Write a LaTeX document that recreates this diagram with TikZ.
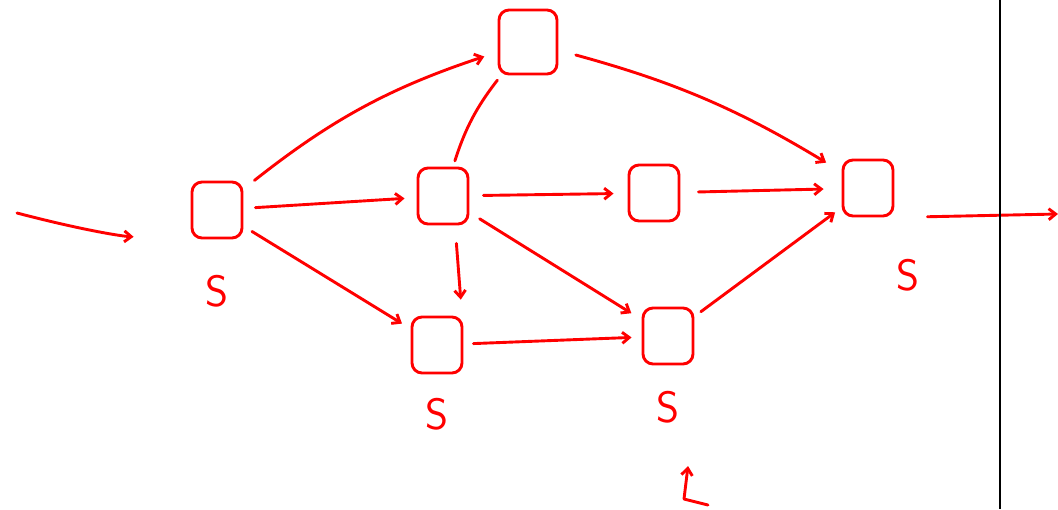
\documentclass[tikz,border=0pt]{standalone}
\usepackage{xcolor}
\definecolor{ink}{RGB}{255,0,0}
\usepackage{tikz}
\usetikzlibrary{positioning,arrows.meta}

\begin{document}
\begin{tikzpicture}[
  x=1pt, y=-1pt,
  pen/.style={draw=ink, line width=2.9pt, line cap=round, line join=round},
  blk/.style={pen, rounded corners=10pt, minimum width=50pt, minimum height=56pt, inner sep=0pt},
  lab/.style={text=ink, font=\sffamily\fontsize{44}{44}\selectfont, inner sep=0pt},
  arr/.style={pen, -{Straight Barb[length=7pt, width=11pt]}},
  link/.style={pen},
  gap/.style={shorten <=#1, shorten >=#1}]
\useasboundingbox (0,0) rectangle (1058,509);
% blocks
\node[blk] (src) at (217,210) {};
\node[blk, minimum width=58pt, minimum height=64pt] (top) at (528,42) {};
\node[blk] (mid) at (443,196) {};
\node[blk] (rmid) at (654,193) {};
\node[blk] (dst) at (868,188) {};
\node[blk] (bl) at (437,345) {};
\node[blk] (br) at (668,336) {};
% labels
\node[lab, below=36pt of src] (srcS) {S};
\node[lab, below=24pt of bl] (blS) {S};
\node[lab, below=26pt of br] (brS) {S};
\node[lab, below=42pt of dst, xshift=40pt] (dstS) {S};
% in / out
\coordinate (in) at (17,213);
\coordinate (out) at (1058,214);
\draw[arr, shorten >=57pt] (in) to[bend right=6] (src.south west);
\draw[arr, shorten <=33pt] (dst.south east) -- (out);
% edges
\draw[arr, gap=14pt] (src) to[bend left=10] (top);
\draw[arr, gap=12pt] (src) -- (mid);
\draw[arr, gap=10pt] (src) -- (bl);
\draw[link, gap=6pt] (top) to[bend right=10] (mid);
\draw[arr, gap=18pt] (top) to[bend left=8] (dst);
\draw[arr, gap=14pt] (mid) -- (rmid);
\draw[arr, shorten <=18pt, shorten >=16pt] ([xshift=12pt]mid.south) -- ([xshift=25pt]bl.north);
\draw[arr, gap=12pt] (mid) -- (br);
\draw[arr, gap=18pt] (rmid) -- (dst);
\draw[arr, gap=10pt] (bl) -- (br);
\draw[arr, gap=8pt] (br) -- (dst);
% right rule
\coordinate (rtop) at (1000,0);
\coordinate (rbot) at (1000,509);
\draw[line width=2.4pt] (rtop) -- (rbot);
% small turned arrow
\coordinate (lfoot) at (708,505);
\coordinate (lbend) at (684,499);
\coordinate (ltip) at (688,466);
\draw[arr] (lfoot) -- (lbend) -- (ltip);
\end{tikzpicture}
\end{document}
